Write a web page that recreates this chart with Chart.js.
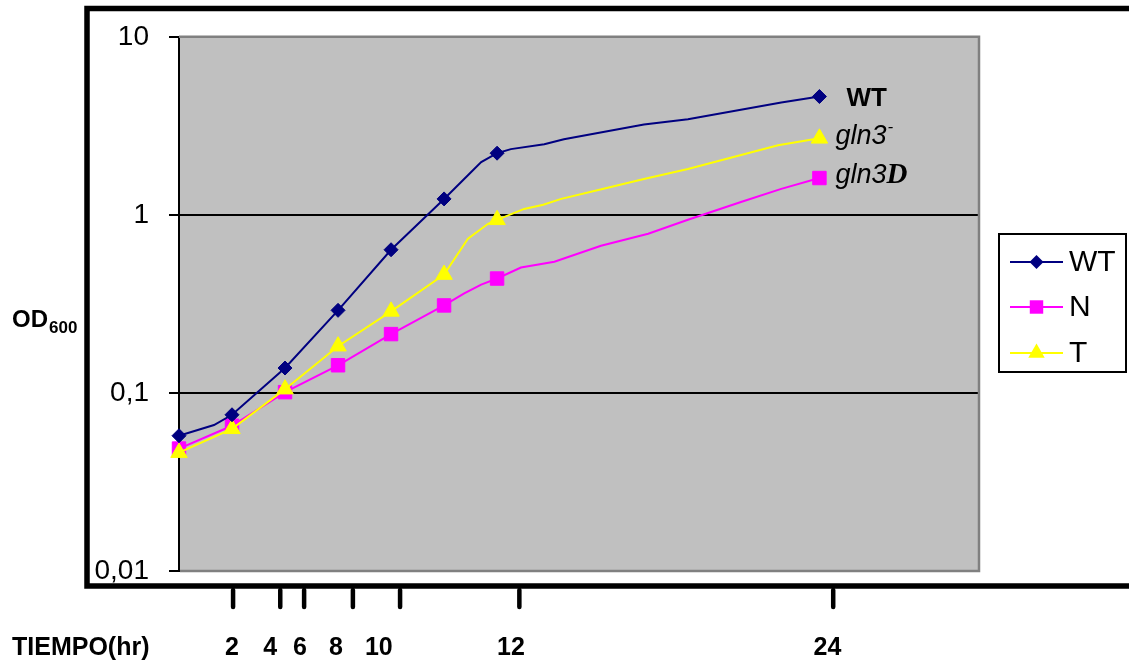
<!DOCTYPE html>
<html><head><meta charset="utf-8">
<script src="https://cdn.jsdelivr.net/npm/chart.js@4.4.0/dist/chart.umd.min.js"></script>
<style>html,body{margin:0;padding:0;background:#fff;}canvas{display:block;}</style>
</head><body>
<canvas id="c" width="1129" height="660"></canvas>
<script>
// ---- data (horizontal position in sample units, OD600 values, 1 = measured point with marker)
const wtPos  = [0, 0.66, 1, 2, 3, 4, 5, 5.45, 5.70, 6, 6.26, 6.89, 7.26, 8.77, 9.60, 11.36, 12.08];
const wtOD   = [0.0575, 0.066, 0.0754, 0.138, 0.291, 0.637, 1.229, 1.67, 1.98, 2.22, 2.34, 2.49, 2.66, 3.22, 3.44, 4.28, 4.62];
const wtMark = [1, 0, 1, 1, 1, 1, 1, 0, 0, 1, 0, 0, 0, 0, 0, 0, 1];

const nPos  = [0, 1, 2, 3, 4, 5, 5.38, 5.70, 6, 6.45, 7.08, 7.96, 8.85, 9.60, 10.60, 11.36, 12.08];
const nOD   = [0.0487, 0.0654, 0.101, 0.143, 0.214, 0.310, 0.362, 0.406, 0.439, 0.506, 0.546, 0.671, 0.783, 0.938, 1.18, 1.40, 1.61];
const nMark = [1, 1, 1, 1, 1, 1, 0, 0, 1, 0, 0, 0, 0, 0, 0, 0, 1];

const tPos  = [0, 1, 2, 3, 4, 5, 5.45, 5.83, 6, 6.51, 6.87, 7.21, 7.91, 8.77, 9.60, 11.30, 12.08];
const tOD   = [0.0462, 0.0629, 0.105, 0.183, 0.287, 0.462, 0.734, 0.891, 0.938, 1.08, 1.14, 1.23, 1.38, 1.59, 1.81, 2.46, 2.69];
const tMark = [1, 1, 1, 1, 1, 1, 0, 0, 1, 0, 0, 0, 0, 0, 0, 0, 1];

const seriesNames = ['WT', 'N', 'T'];
const yTicks = [0.01, 0.1, 1, 10];
const yTickLabels = ['0,01', '0,1', '1', '10'];

// hand-drawn time axis below the plot
const hourLabels   = ['2', '4', '6', '8', '10', '12', '24'];
const hourTickPos  = [1.02, 1.91, 2.36, 3.28, 4.17, 6.42, 12.34];
const hourLabelPos = [1.0, 1.72, 2.28, 2.96, 3.77, 6.26, 12.23];
const xTitle = 'TIEMPO(hr)';
const yTitleMain = 'OD';
const yTitleSub = '600';

// ---- helpers
const pts = (xs, ys) => xs.map((x, i) => ({x: x, y: ys[i]}));
const radii = (marks, r) => marks.map(m => m ? r : 0);
const COLORS = {WT: '#000080', N: '#FF00FF', T: '#FFFF00'};
const STYLES = {WT: 'rectRot', N: 'rect', T: 'triangle'};
const RADIUS = {WT: 7, N: 9.5, T: 9.5};
const ORDER = {WT: 0, T: 1, N: 2};
const SANS = '"Liberation Sans", Arial, sans-serif';

function drawMarker(ctx, style, x, y, r, color) {
  ctx.save();
  ctx.fillStyle = color;
  ctx.beginPath();
  if (style === 'rectRot') {
    ctx.moveTo(x, y - r); ctx.lineTo(x + r, y); ctx.lineTo(x, y + r); ctx.lineTo(x - r, y);
  } else if (style === 'rect') {
    const s = r * Math.SQRT1_2;
    ctx.rect(x - s, y - s, 2 * s, 2 * s);
  } else {
    const w = r * Math.sqrt(3) / 2;
    ctx.moveTo(x, y - r); ctx.lineTo(x + w, y + r / 2); ctx.lineTo(x - w, y + r / 2);
  }
  ctx.closePath();
  ctx.fill();
  ctx.restore();
}

const decor = {
  id: 'decor',
  beforeDraw(chart) {
    const {ctx, chartArea: a} = chart;
    ctx.save();
    ctx.fillStyle = '#ffffff';
    ctx.fillRect(0, 0, chart.width, chart.height);
    ctx.fillStyle = '#C0C0C0';
    ctx.fillRect(a.left, a.top, a.right - a.left, a.bottom - a.top);
    ctx.restore();
  },
  afterDraw(chart) {
    const {ctx, chartArea: a} = chart;
    const xs = chart.scales.x;
    ctx.save();
    // gray plot border (top, right, bottom)
    ctx.strokeStyle = '#808080';
    ctx.lineWidth = 2.5;
    ctx.beginPath();
    ctx.moveTo(a.left, a.top); ctx.lineTo(a.right, a.top); ctx.lineTo(a.right, a.bottom); ctx.lineTo(a.left + 1, a.bottom);
    ctx.stroke();

    // thick black outer frame
    ctx.strokeStyle = '#000';
    ctx.lineWidth = 5.5;
    ctx.lineCap = 'butt';
    ctx.beginPath();
    ctx.moveTo(chart.width, 8.5); ctx.lineTo(87, 8.5); ctx.lineTo(87, 586); ctx.lineTo(chart.width, 586);
    ctx.stroke();

    // time axis ticks
    ctx.lineWidth = 4.5;
    ctx.lineCap = 'round';
    hourTickPos.forEach(v => {
      const px = xs.getPixelForValue(v);
      ctx.beginPath(); ctx.moveTo(px, 590); ctx.lineTo(px, 607); ctx.stroke();
    });
    ctx.fillStyle = '#000';
    ctx.font = 'bold 25px ' + SANS;
    ctx.textBaseline = 'alphabetic';
    ctx.textAlign = 'center';
    hourLabels.forEach((t, i) => ctx.fillText(t, xs.getPixelForValue(hourLabelPos[i]), 655));
    ctx.textAlign = 'left';
    ctx.fillText(xTitle, 12, 655);

    // y title OD600
    ctx.font = 'bold 24px ' + SANS;
    ctx.fillText(yTitleMain, 12, 327);
    const w = ctx.measureText(yTitleMain).width;
    ctx.font = 'bold 17px ' + SANS;
    ctx.fillText(yTitleSub, 12 + w + 1, 333);

    // legend
    const lx = 999, ly = 234, lw = 127, lh = 138;
    ctx.fillStyle = '#fff';
    ctx.fillRect(lx, ly, lw, lh);
    ctx.strokeStyle = '#000';
    ctx.lineWidth = 2;
    ctx.lineCap = 'butt';
    ctx.strokeRect(lx, ly, lw, lh);
    const rowY = [262, 307, 353];
    seriesNames.forEach((name, i) => {
      const y = rowY[i];
      ctx.strokeStyle = COLORS[name];
      ctx.lineWidth = 2;
      ctx.beginPath(); ctx.moveTo(1010, y); ctx.lineTo(1063, y); ctx.stroke();
      drawMarker(ctx, STYLES[name], 1036.5, y, RADIUS[name], COLORS[name]);
      ctx.fillStyle = '#000';
      ctx.font = '30px ' + SANS;
      ctx.textBaseline = 'middle';
      ctx.fillText(name, 1069, y + 1);
    });

    // annotations at series ends
    const last = i => { const d = chart.getDatasetMeta(i).data; return d[d.length - 1]; };
    const pWT = last(0), pN = last(1), pT = last(2);
    ctx.fillStyle = '#000';
    ctx.textBaseline = 'alphabetic';
    ctx.font = 'bold 26px ' + SANS;
    ctx.fillText('WT', pWT.x + 27, pWT.y + 9);

    ctx.font = 'italic 27px ' + SANS;
    ctx.fillText('gln3', pT.x + 16, pT.y + 6);
    let gw = ctx.measureText('gln3').width;
    ctx.font = 'italic 17px ' + SANS;
    ctx.fillText('-', pT.x + 16 + gw + 1, pT.y - 6);

    ctx.font = 'italic 27px ' + SANS;
    ctx.fillText('gln3', pN.x + 16, pN.y + 5);
    gw = ctx.measureText('gln3').width;
    ctx.font = 'bold italic 29px "Liberation Serif", "Times New Roman", serif';
    ctx.fillText('D', pN.x + 16 + gw, pN.y + 5);
    ctx.restore();
  }
};

const mkSet = (name, xs, ys, marks) => ({
  label: name,
  order: ORDER[name],
  clip: false,
  data: pts(xs, ys),
  borderColor: COLORS[name],
  backgroundColor: COLORS[name],
  borderWidth: 2,
  tension: 0,
  pointStyle: STYLES[name],
  pointRadius: radii(marks, RADIUS[name]),
  pointHoverRadius: radii(marks, RADIUS[name]),
  pointBorderWidth: 1,
  pointBorderColor: COLORS[name],
  pointBackgroundColor: COLORS[name]
});

new Chart(document.getElementById('c'), {
  type: 'line',
  data: {
    datasets: [
      mkSet('WT', wtPos, wtOD, wtMark),
      mkSet('N', nPos, nOD, nMark),
      mkSet('T', tPos, tOD, tMark)
    ]
  },
  options: {
    responsive: false,
    animation: false,
    devicePixelRatio: 1,
    layout: {padding: {left: 0, top: 34, right: 150, bottom: 89}},
    plugins: {legend: {display: false}, tooltip: {enabled: false}},
    scales: {
      x: {type: 'linear', min: 0, max: 15.09, display: false},
      y: {
        type: 'logarithmic', min: 0.01, max: 10,
        afterFit(s) { s.width = 179; },
        afterBuildTicks(s) { s.ticks = yTicks.map(v => ({value: v})); },
        border: {display: true, color: '#000', width: 2},
        grid: {
          color: c => (c.tick && (c.tick.value === 1 || c.tick.value === 0.1)) ? '#000' : 'rgba(0,0,0,0)',
          tickColor: '#000',
          lineWidth: 2,
          drawTicks: true,
          tickLength: 10
        },
        ticks: {
          padding: 20,
          color: '#000',
          font: {family: SANS, size: 28},
          callback: (v) => { const i = yTicks.indexOf(v); return i >= 0 ? yTickLabels[i] : ''; }
        }
      }
    }
  },
  plugins: [decor]
});
</script>
</body></html>
